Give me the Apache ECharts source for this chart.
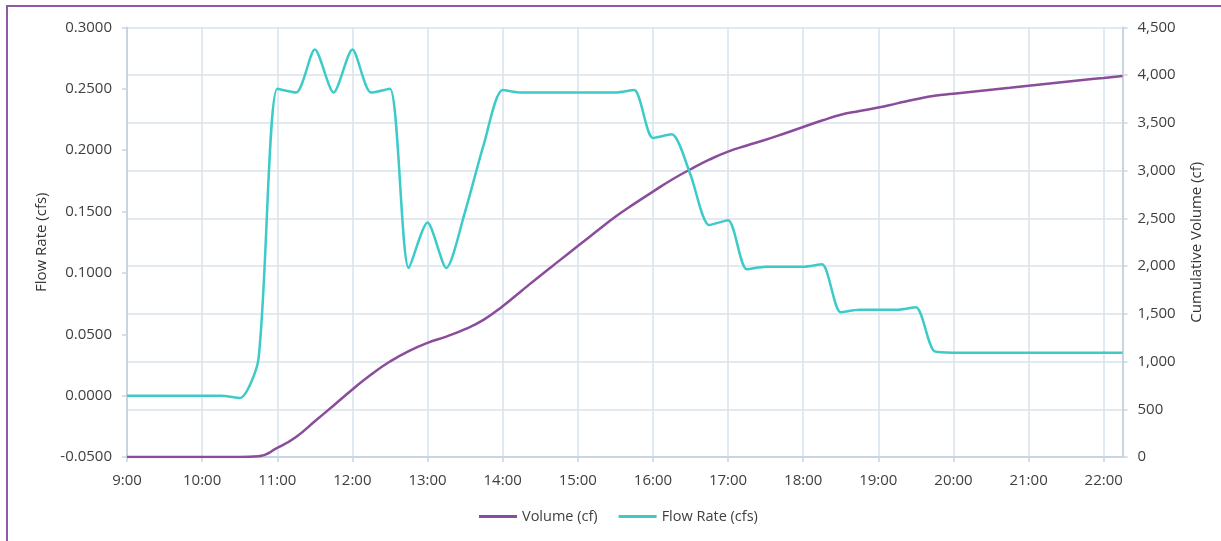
<!DOCTYPE html>
<html>
<head>
<meta charset="utf-8">
<script src="https://cdn.jsdelivr.net/npm/echarts/dist/echarts.min.js"></script>
<style>
  html, body { margin: 0; padding: 0; background: #ffffff; }
  #chart { width: 1221px; height: 541px; }
</style>
</head>
<body>
<div id="chart"></div>
<script>
// Sample times, every 15 minutes
const times = [
  "9:00","9:15","9:30","9:45","10:00","10:15","10:30","10:45",
  "11:00","11:15","11:30","11:45","12:00","12:15","12:30","12:45",
  "13:00","13:15","13:30","13:45","14:00","14:15","14:30","14:45",
  "15:00","15:15","15:30","15:45","16:00","16:15","16:30","16:45",
  "17:00","17:15","17:30","17:45","18:00","18:15","18:30","18:45",
  "19:00","19:15","19:30","19:45","20:00","20:15","20:30","20:45",
  "21:00","21:15","21:30","21:45","22:00","22:15"
];

// Flow rate (cfs)
const flowRate = [
  0, 0, 0, 0, 0, 0, -0.002, 0.030,
  0.250, 0.247, 0.282, 0.247, 0.282, 0.247, 0.250, 0.104,
  0.141, 0.104, 0.150, 0.205, 0.249, 0.247, 0.247, 0.247,
  0.247, 0.247, 0.247, 0.249, 0.210, 0.213, 0.180, 0.139,
  0.143, 0.103, 0.105, 0.105, 0.105, 0.107, 0.068, 0.070,
  0.070, 0.070, 0.072, 0.036, 0.035, 0.035, 0.035, 0.035,
  0.035, 0.035, 0.035, 0.035, 0.035, 0.035
];

// Cumulative volume (cf)
const volume = [
  0, 0, 0, 0, 0, 0, 0, 8,
  95, 210, 375, 540, 708, 865, 1000, 1110,
  1195, 1262, 1340, 1440, 1580, 1740, 1900, 2055,
  2210, 2365, 2517, 2652, 2780, 2905, 3015, 3115,
  3200, 3264, 3324, 3390, 3458, 3525, 3586, 3625,
  3661, 3705, 3748, 3785, 3806, 3827, 3848, 3868,
  3889, 3910, 3931, 3952, 3972, 3993
];

const flowTicks = { min: -0.05, max: 0.30, step: 0.05 };
const volumeTicks = { min: 0, max: 4500, step: 500 };
const hourRange = { start: 9, end: 22.25 };

function toHours(t) {
  const [h, m] = t.split(":").map(Number);
  return h + m / 60;
}

const hours = times.map(toHours);
const pairs = (vals) => vals.map((v, i) => [hours[i], v]);

const FONT = "'Open Sans', 'Liberation Sans', sans-serif";
const TEXT = "#404040";
const AXIS = "#c8d5e1";
const GRID = "#d9e3ec";
const PURPLE = "#8a4d9b";
const CYAN = "#3ccbc8";

const chart = echarts.init(document.getElementById("chart"), null, { renderer: "canvas" });

chart.setOption({
  animation: false,
  backgroundColor: "#ffffff",
  textStyle: { fontFamily: FONT },
  graphic: [{
    type: "rect",
    shape: { x: 7, y: 6, width: 1400, height: 700 },
    style: { fill: "none", stroke: "#8f5aa3", lineWidth: 2 },
    silent: true
  }],
  grid: { left: 127, right: 98.5, top: 27.5, bottom: 84, containLabel: false },
  legend: {
    left: 479,
    top: 509,
    padding: 0,
    icon: "rect",
    itemWidth: 38,
    itemHeight: 3,
    itemGap: 21,
    textStyle: { fontFamily: FONT, fontSize: 14.5, color: TEXT },
    data: ["Volume (cf)", "Flow Rate (cfs)"]
  },
  xAxis: {
    type: "value",
    min: hourRange.start,
    max: hourRange.end,
    interval: 1,
    axisLine: { show: true, onZero: false, lineStyle: { color: AXIS, width: 2 } },
    axisTick: { show: true, length: 5, lineStyle: { color: AXIS, width: 1.5 } },
    axisLabel: {
      showMaxLabel: false,
      margin: 16,
      fontFamily: FONT,
      fontSize: 15,
      color: TEXT,
      formatter: (v) => (Math.abs(v - Math.round(v)) < 1e-6 ? Math.round(v) + ":00" : "")
    },
    splitLine: { show: true, lineStyle: { color: GRID, width: 1.5 } }
  },
  yAxis: [
    {
      type: "value",
      position: "left",
      min: flowTicks.min,
      max: flowTicks.max,
      interval: flowTicks.step,
      name: "Flow Rate (cfs)",
      nameLocation: "middle",
      nameRotate: 90,
      nameGap: 66,
      nameTextStyle: { fontFamily: FONT, fontSize: 15, color: "#333333" },
      axisLine: { show: true, onZero: false, lineStyle: { color: AXIS, width: 2 } },
      axisTick: { show: true, length: 5, lineStyle: { color: AXIS, width: 1.5 } },
      axisLabel: {
        margin: 15,
        fontFamily: FONT,
        fontSize: 15,
        color: TEXT,
        formatter: (v) => v.toFixed(4)
      },
      splitLine: { show: false }
    },
    {
      type: "value",
      position: "right",
      min: volumeTicks.min,
      max: volumeTicks.max,
      interval: volumeTicks.step,
      name: "Cumulative Volume (cf)",
      nameLocation: "middle",
      nameRotate: 90,
      nameGap: 67,
      nameTextStyle: { fontFamily: FONT, fontSize: 15, color: "#333333" },
      axisLine: { show: true, onZero: false, lineStyle: { color: AXIS, width: 2 } },
      axisTick: { show: true, length: 5, lineStyle: { color: AXIS, width: 1.5 } },
      axisLabel: {
        margin: 15,
        fontFamily: FONT,
        fontSize: 15,
        color: TEXT,
        formatter: (v) => Math.round(v).toLocaleString("en-US")
      },
      splitLine: { show: true, lineStyle: { color: GRID, width: 1.5 } }
    }
  ],
  series: [
    {
      name: "Volume (cf)",
      type: "line",
      yAxisIndex: 1,
      data: pairs(volume),
      smooth: 0.5,
      symbol: "none",
      lineStyle: { color: PURPLE, width: 2.5 },
      itemStyle: { color: PURPLE },
      z: 2
    },
    {
      name: "Flow Rate (cfs)",
      type: "line",
      yAxisIndex: 0,
      data: pairs(flowRate),
      smooth: 0.25,
      symbol: "none",
      lineStyle: { color: CYAN, width: 2.5 },
      itemStyle: { color: CYAN },
      z: 3
    }
  ]
});
</script>
</body>
</html>
